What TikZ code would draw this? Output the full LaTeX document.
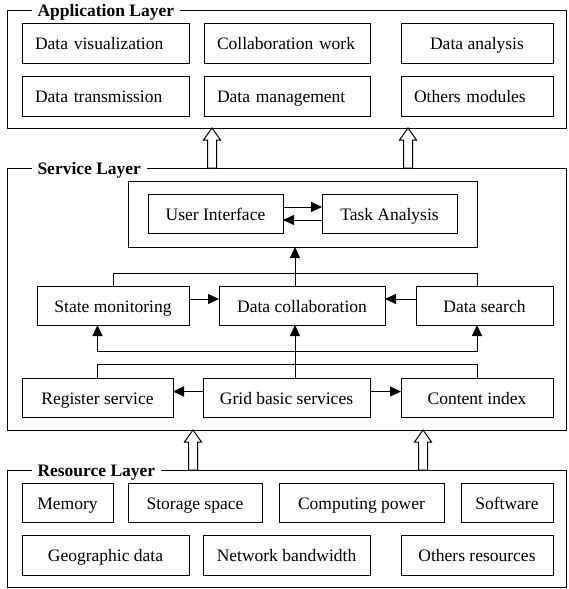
\documentclass[tikz,border=0pt]{standalone}
\usepackage{fontspec}
\setmainfont{Liberation Serif}
\usetikzlibrary{arrows.meta,positioning}

\tikzset{
  module/.style={draw,line width=1pt,inner sep=0pt,outer sep=0pt,minimum height=39pt,
    text height=13pt,text depth=0pt,font=\fontsize{17.5}{20}\selectfont},
  leftmodule/.style={module,inner xsep=13pt,align=left},
  panel/.style={draw,line width=1pt,inner sep=0pt,outer sep=0pt},
  layertitle/.style={fill=white,anchor=base west,inner xsep=6pt,inner ysep=2pt,
    font=\fontsize{17.5}{20}\selectfont\bfseries},
  hollow/.style={draw,fill=white,line width=1pt,line join=miter}
}

% hollow block arrow from #1 up to the tip #2
\newcommand{\blockup}[2]{%
  \draw[hollow] ([xshift=-4.5pt]#1) -- ([xshift=-4.5pt,yshift=-12pt]#2)
    -- ([xshift=-8.5pt,yshift=-12pt]#2) -- (#2)
    -- ([xshift=8.5pt,yshift=-12pt]#2) -- ([xshift=4.5pt,yshift=-12pt]#2)
    -- ([xshift=4.5pt]#1) -- cycle;}

\begin{document}
\begin{tikzpicture}[x=1pt,y=-1pt,>={Triangle[length=11pt,width=10pt]},line width=1pt]
  \useasboundingbox (0,0) rectangle (569,589);

  % layers
  \node[panel,minimum width=559pt,minimum height=118pt] (app) at (286.5,69) {};
  \node[panel,minimum width=559pt,minimum height=262pt] (svc) at (286.5,299) {};
  \node[panel,minimum width=559pt,minimum height=117pt] (res) at (286.5,528.5) {};
  \node[layertitle] (app_t) at ([xshift=24pt,yshift=-6.5pt]app.north west) {Application Layer};
  \node[layertitle] (svc_t) at ([xshift=24pt,yshift=-6.5pt]svc.north west) {Service Layer};
  \node[layertitle] (res_t) at ([xshift=24pt,yshift=-6.5pt]res.north west) {Resource Layer};

  % application layer
  \node[leftmodule,text width=141pt,minimum height=40pt] (vis) at (105.5,43) {Data visualization};
  \node[leftmodule,text width=140pt,minimum height=40pt] (collab) [right=15pt of vis] {Collaboration work};
  \node[module,minimum width=152pt,minimum height=40pt] (analysis) [right=31pt of collab] {Data analysis};
  \node[leftmodule,text width=141pt,minimum height=40pt] (trans) [below=13pt of vis] {Data transmission};
  \node[leftmodule,text width=140pt,minimum height=40pt] (manage) [below=13pt of collab] {Data management};
  \node[leftmodule,text width=126pt,minimum height=40pt] (others) [below=13pt of analysis] {Others modules};

  % service layer
  \node[panel,minimum width=349pt,minimum height=66pt] (core) at (302.5,214) {};
  \node[module,minimum width=135pt] (ui) at (215.5,213.5) {User Interface};
  \node[module,minimum width=135pt] (task) [right=39pt of ui] {Task Analysis};
  \node[module,minimum width=152pt] (sm) at (113,305.5) {State monitoring};
  \node[module,minimum width=166pt] (dc) [right=30pt of sm] {Data collaboration};
  \node[module,minimum width=137pt] (ds) [right=31pt of dc] {Data search};
  \node[module,minimum width=151pt] (rs) at (97.5,397.5) {Register service};
  \node[module,minimum width=167pt] (gbs) [right=30pt of rs] {Grid basic services};
  \node[module,minimum width=152pt] (ci) [right=31pt of gbs] {Content index};
  \coordinate (spine) at (295,0);
  \coordinate[yshift=-26pt] (fork) at (dc.south -| spine);

  \draw[->] ([yshift=6.5pt]ui.east) -- ([yshift=6.5pt]task.west);
  \draw[->] ([yshift=-6.5pt]task.west) -- ([yshift=-6.5pt]ui.east);
  \draw (sm.north) -- ++(0,-13) -| (ds.north -| core.east);
  \draw[->] (dc.north -| spine) -- (core.south -| spine);
  \draw[->] ([yshift=6.5pt]sm.east) -- ([yshift=6.5pt]dc.west);
  \draw[->] ([yshift=6.5pt]ds.west) -- ([yshift=6.5pt]dc.east);
  \draw[->] (gbs.north -| spine) -- (dc.south -| spine);
  \draw[->] (fork) -| (sm.south -| rs.north);
  \draw[->] (fork) -| (ds.south -| ci.north);
  \draw (rs.north) -- ++(0,-14) -| (ci.north);
  \draw[->] ([yshift=6pt]gbs.west) -- ([yshift=6pt]rs.east);
  \draw[->] ([yshift=6pt]gbs.east) -- ([yshift=6pt]ci.west);

  % resource layer
  \node[module,minimum width=91pt] (mem) at (67.5,502.5) {Memory};
  \node[module,minimum width=134pt] (store) [right=15pt of mem] {Storage space};
  \node[module,minimum width=165pt] (comp) [right=17pt of store] {Computing power};
  \node[module,minimum width=92pt] (soft) [right=17pt of comp] {Software};
  \node[module,minimum width=167pt,minimum height=40pt,anchor=north west] (geo)
    at ([yshift=-13pt]mem.south west) {Geographic data};
  \node[module,minimum width=167pt,minimum height=40pt] (net) [right=14pt of geo] {Network bandwidth};
  \node[module,minimum width=152pt,minimum height=40pt] (rest) [right=31pt of net] {Others resources};

  % links between layers
  \coordinate (up_1s) at ([xshift=205pt]svc.north west);
  \coordinate (up_1t) at ([xshift=205pt]app.south west);
  \coordinate (up_2s) at ([xshift=401pt]svc.north west);
  \coordinate (up_2t) at ([xshift=401pt]app.south west);
  \coordinate (up_3s) at ([xshift=186pt]res.north west);
  \coordinate (up_3t) at ([xshift=186pt]svc.south west);
  \coordinate (up_4s) at ([xshift=416pt]res.north west);
  \coordinate (up_4t) at ([xshift=416pt]svc.south west);
  \blockup{up_1s}{up_1t}
  \blockup{up_2s}{up_2t}
  \blockup{up_3s}{up_3t}
  \blockup{up_4s}{up_4t}
\end{tikzpicture}
\end{document}
